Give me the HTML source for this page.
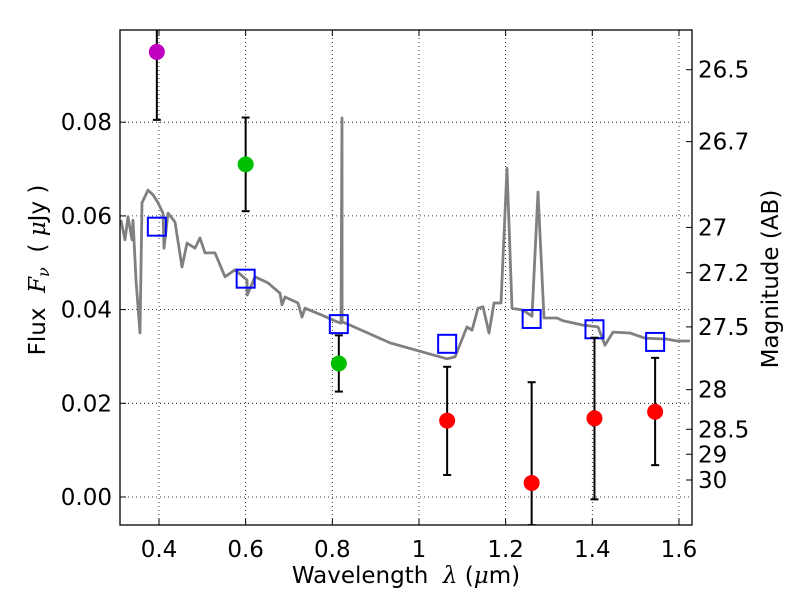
<!DOCTYPE html>
<html><head><meta charset="utf-8"><style>
html,body{margin:0;padding:0;background:#fff;}
svg{display:block;font-family:"DejaVu Sans","Liberation Sans",sans-serif;}
</style></head><body>
<svg id="chart" width="800" height="600" viewBox="0 0 800 600">
<g id="grid"></g>
<g id="plot"></g>
<g id="axes"></g>
<text x="406" y="583" font-size="23" text-anchor="middle">Wavelength&#160;&#160;<tspan font-style="italic" font-family="DejaVu Serif, serif">λ</tspan> (<tspan font-style="italic" font-family="DejaVu Serif, serif">μ</tspan>m)</text>
<text transform="translate(45,270) rotate(-90)" font-size="23" text-anchor="middle">Flux&#160;&#160;<tspan font-style="italic" font-family="DejaVu Serif, serif">F<tspan font-size="16" dy="4">ν</tspan></tspan><tspan dy="-4">&#160;&#160;(&#160;</tspan><tspan font-style="italic" font-family="DejaVu Serif, serif">μ</tspan>Jy )</text>
<text transform="translate(778,279) rotate(-90)" font-size="23" text-anchor="middle">Magnitude (AB)</text>
</svg>
<script>
const xTicks=[0.4,0.6,0.8,1.0,1.2,1.4,1.6];
const xTickLabels=["0.4","0.6","0.8","1","1.2","1.4","1.6"];
const yTicks=[0,0.02,0.04,0.06,0.08];
const yTickLabels=["0.00","0.02","0.04","0.06","0.08"];
const magTicks=[26.5,26.7,27,27.2,27.5,28,28.5,29,30];
const magTickLabels=["26.5","26.7","27","27.2","27.5","28","28.5","29","30"];
const specLam=[0.3123,0.3215,0.3285,0.3377,0.3400,0.3469,0.3562,0.3608,0.3746,0.3862,0.3977,0.4092,0.4115,0.4208,0.4369,0.4531,0.4646,0.4831,0.4946,0.5062,0.5292,0.5523,0.5754,0.6031,0.6035,0.6216,0.6516,0.6792,0.6839,0.6908,0.7208,0.7300,0.7370,0.7762,0.8108,0.8200,0.8223,0.8226,0.8408,0.9331,1.0647,1.0831,1.1108,1.1224,1.1362,1.1478,1.1616,1.1731,1.1893,1.2031,1.2147,1.2401,1.2608,1.2747,1.2885,1.3185,1.3324,1.3785,1.4131,1.4293,1.4478,1.4870,1.5216,1.5724,1.5955,1.6255];
const specFlux=[0.0591,0.0549,0.0598,0.0549,0.0591,0.0463,0.0350,0.0628,0.0655,0.0645,0.0628,0.0606,0.0531,0.0606,0.0587,0.0491,0.0542,0.0531,0.0553,0.0521,0.0521,0.0470,0.0485,0.0463,0.0431,0.0470,0.0457,0.0435,0.0410,0.0427,0.0414,0.0384,0.0403,0.0388,0.0374,0.0371,0.0809,0.0374,0.0367,0.0329,0.0295,0.0299,0.0363,0.0356,0.0403,0.0406,0.0350,0.0414,0.0414,0.0702,0.0403,0.0399,0.0386,0.0651,0.0382,0.0382,0.0376,0.0367,0.0363,0.0324,0.0352,0.0350,0.0339,0.0337,0.0333,0.0333];
const bandLam=[0.395,0.6,0.815,1.065,1.26,1.405,1.545];
const obsFlux=[0.095,0.071,0.0285,0.0163,0.003,0.0168,0.0182];
const obsLow=[0.0805,0.061,0.0225,0.0047,-0.006,-0.0005,0.0068];
const obsHigh=[0.11,0.081,0.0345,0.0278,0.0245,0.034,0.0297];
const obsColor=["#bf00bf","#00bf00","#00bf00","#ff0000","#ff0000","#ff0000","#ff0000"];
const modelFlux=[0.0577,0.0466,0.0369,0.0327,0.038,0.0358,0.0331];

const NS="http://www.w3.org/2000/svg";
const L=120,R=692,T=30,B=525;
const X=v=>159+(v-0.4)*433.3;
const Y=v=>497-v*4685;
const magToFlux=m=>Math.pow(10,(23.9-m)/2.5);
function mk(tag,attrs,parent){const e=document.createElementNS(NS,tag);for(const k in attrs)e.setAttribute(k,attrs[k]);parent.appendChild(e);return e;}
const svg=document.getElementById('chart');
const grid=document.getElementById('grid'),plot=document.getElementById('plot'),axes=document.getElementById('axes');
const defs=mk('defs',{},svg);
const cp=mk('clipPath',{id:'clip'},defs);mk('rect',{x:L,y:T,width:R-L,height:B-T},cp);
plot.setAttribute('clip-path','url(#clip)');

xTicks.forEach((t,i)=>{
  const x=X(t);
  const g=mk('line',{x1:x,x2:x,y1:T,y2:B,stroke:'#000','stroke-width':0.8,'stroke-dasharray':'1,3'},grid);
  
  mk('line',{x1:x,x2:x,y1:B,y2:B-6,stroke:'#000','stroke-width':1},axes);
  mk('line',{x1:x,x2:x,y1:T,y2:T+6,stroke:'#000','stroke-width':1},axes);
  const tx=mk('text',{x:x,y:B+32,'font-size':23,'text-anchor':'middle'},axes);
  
  
  tx.textContent=xTickLabels[i];
});
yTicks.forEach((t,i)=>{
  const y=Y(t);
  const g=mk('line',{x1:L,x2:R,y1:y,y2:y,stroke:'#000','stroke-width':0.8,'stroke-dasharray':'1,3'},grid);
  
  mk('line',{x1:L,x2:L+6,y1:y,y2:y,stroke:'#000','stroke-width':1},axes);
  const tx=mk('text',{x:L-8,y:y+8,'font-size':23,'text-anchor':'end'},axes);
  
  
  tx.textContent=yTickLabels[i];
});
magTicks.forEach((m,i)=>{
  const y=Y(magToFlux(m));
  mk('line',{x1:R,x2:R-6,y1:y,y2:y,stroke:'#000','stroke-width':1},axes);
  const tx=mk('text',{x:R+6,y:y+8,'font-size':23},axes);
  
  
  tx.textContent=magTickLabels[i];
});

const pts=specLam.map((l,i)=>X(l).toFixed(1)+','+Y(specFlux[i]).toFixed(1)).join(' ');
const sp=mk('polyline',{points:pts,fill:'none',stroke:'#808080','stroke-width':2.8,'stroke-linejoin':'round'},plot);



bandLam.forEach((l,i)=>{
  const x=X(l);
  const sq=mk('rect',{x:x-9,y:Y(modelFlux[i])-9,width:18,height:18,fill:'none',stroke:'#0000ff','stroke-width':2},plot);
  
  
});
bandLam.forEach((l,i)=>{
  const x=X(l);
  const eb=mk('line',{x1:x,x2:x,y1:Y(obsLow[i]),y2:Y(obsHigh[i]),stroke:'#000','stroke-width':2},plot);
  
  
  mk('line',{x1:x-4,x2:x+4,y1:Y(obsLow[i]),y2:Y(obsLow[i]),stroke:'#000','stroke-width':2},plot);
  mk('line',{x1:x-4,x2:x+4,y1:Y(obsHigh[i]),y2:Y(obsHigh[i]),stroke:'#000','stroke-width':2},plot);
  const c=mk('circle',{cx:x,cy:Y(obsFlux[i]),r:8,fill:obsColor[i]},plot);
  
  
});
const fr=mk('rect',{x:L,y:T,width:R-L,height:B-T,fill:'none',stroke:'#000','stroke-width':1.3},axes);


</script>
</body></html>
